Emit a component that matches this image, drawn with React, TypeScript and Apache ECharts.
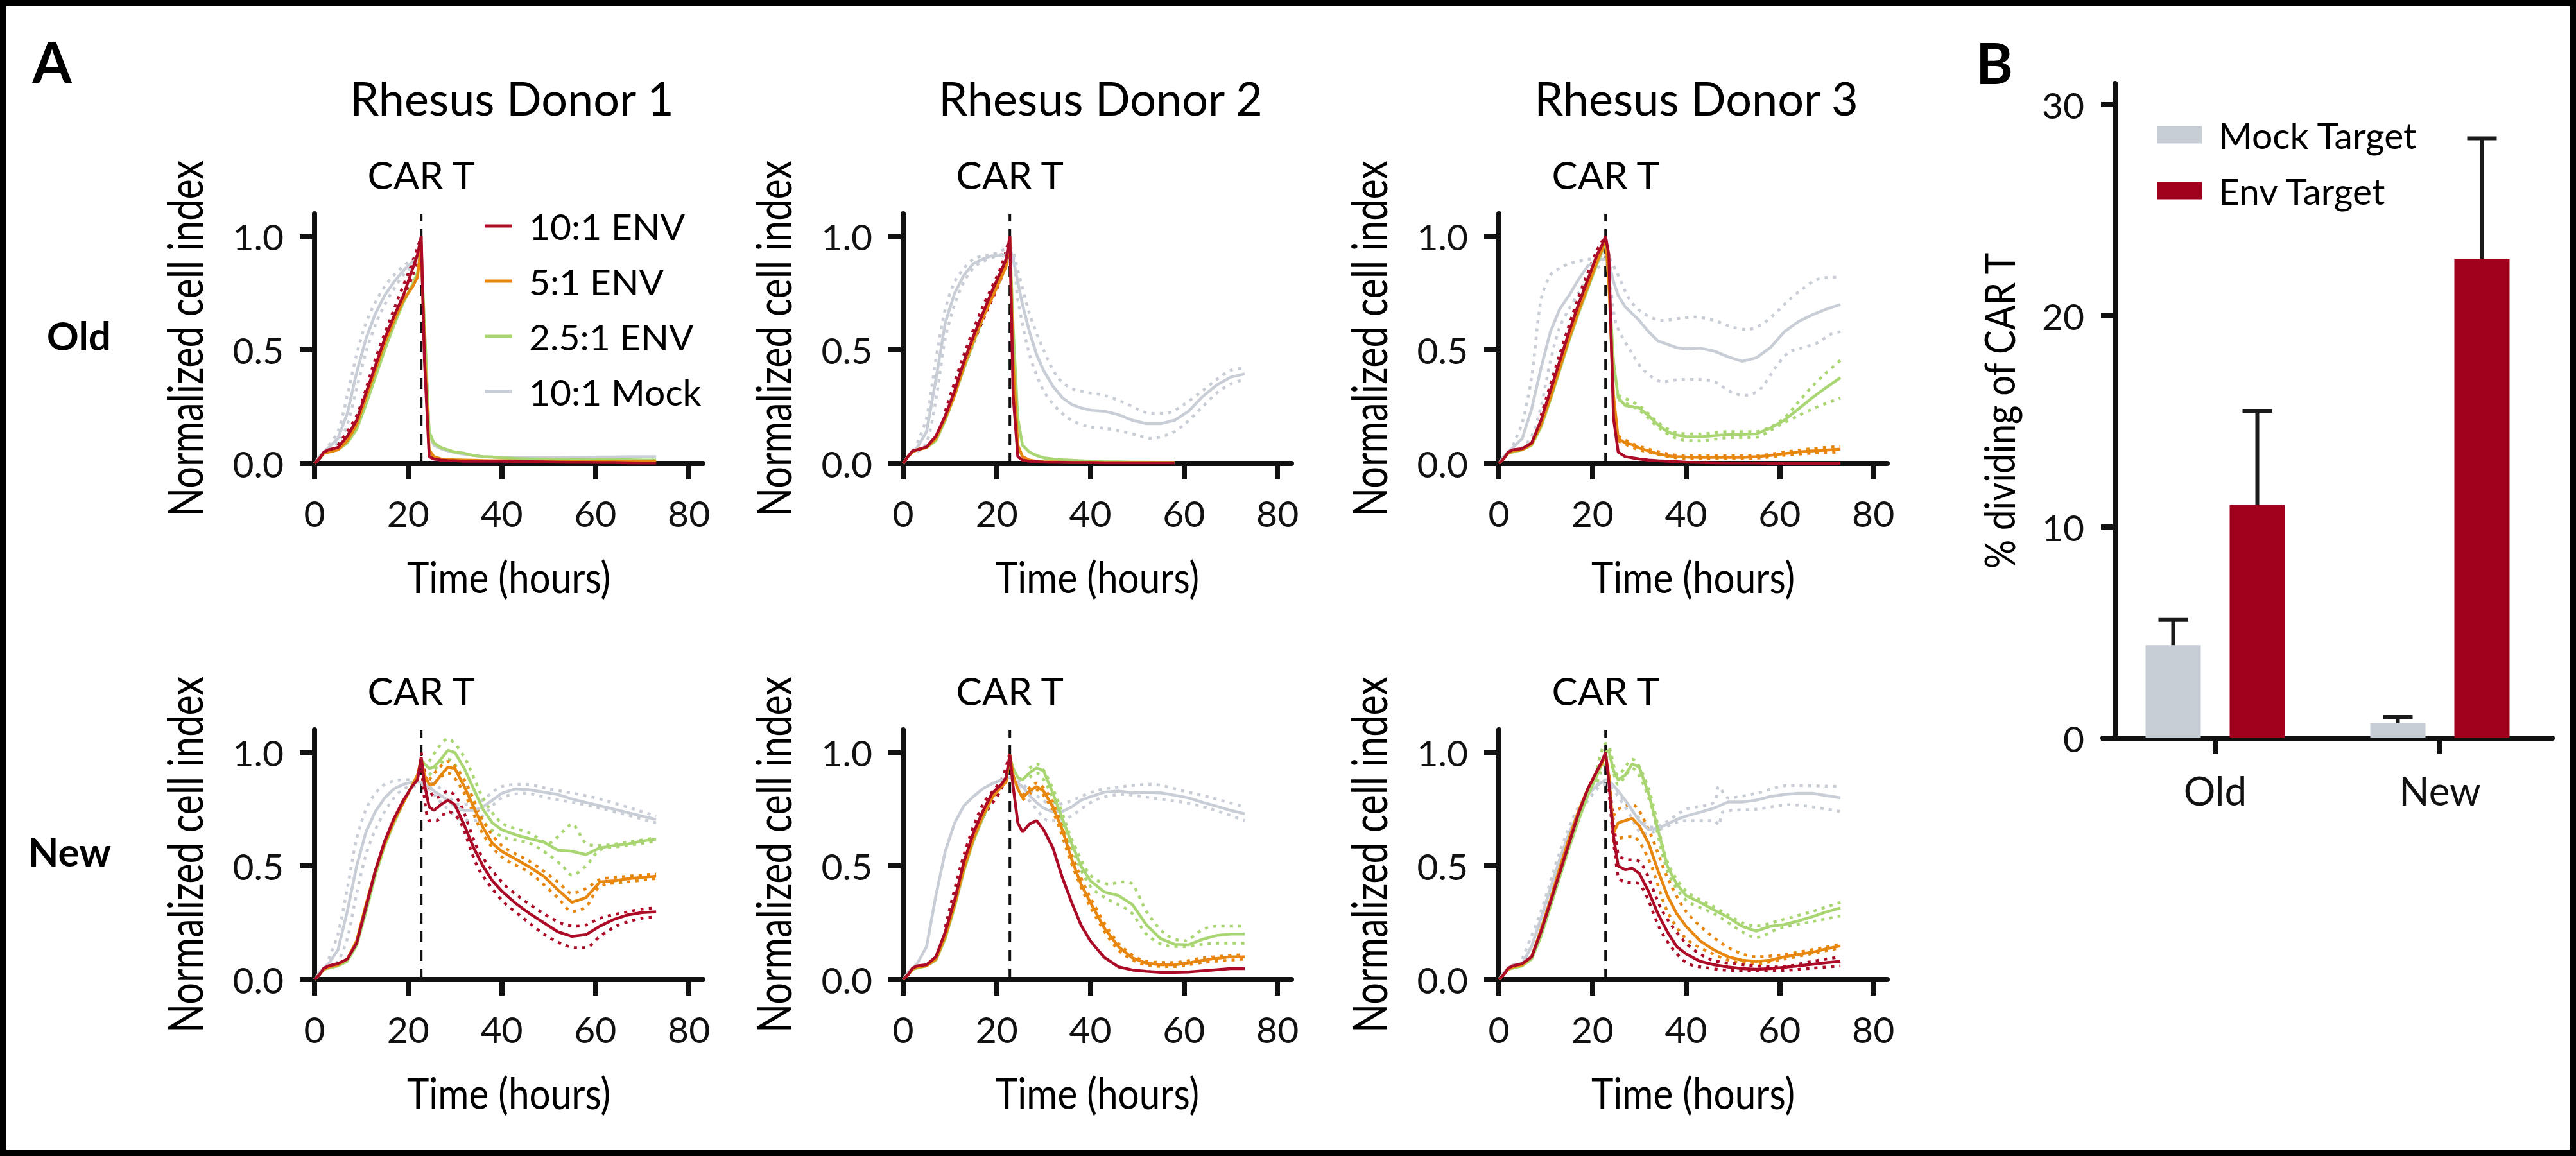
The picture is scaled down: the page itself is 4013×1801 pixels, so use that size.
import React, { useEffect, useRef } from "react";
import * as echarts from "echarts";

// ---------- shared axes / labels ----------
const TIME = [0, 1, 2, 3, 5, 7, 9, 11, 13, 15, 17, 19, 21, 22, 22.8, 23.5, 24.5, 25.5, 27, 28.5, 30, 32, 34, 36, 38, 40, 43, 46, 49, 52, 55, 58, 61, 64, 67, 70, 73];
const CAR_T_TIME = 22.8;
const X_MAX = 83;
const Y_MAX = 1.1;
const X_TICKS = [0, 20, 40, 60, 80];
const Y_TICKS = [0, 0.5, 1];
const DONORS = ["Rhesus Donor 1", "Rhesus Donor 2", "Rhesus Donor 3"];
const ROW_LABELS = ["Old", "New"];
const LINE_NAMES = ["10:1 ENV", "5:1 ENV", "2.5:1 ENV", "10:1 Mock"];
const LINE_COLORS = ["#ab0b26", "#e8870f", "#a9d672", "#c8cdd6"];

// ---------- Old, Donor 1 ----------
const O1_RED = [0, 0.02, 0.05, 0.06, 0.07, 0.12, 0.19, 0.31, 0.43, 0.55, 0.65, 0.74, 0.86, 0.92, 1.0, 0.45, 0.03, 0.02, 0.015, 0.013, 0.012, 0.01, 0.01, 0.01, 0.01, 0.01, 0.008, 0.008, 0.007, 0.006, 0.005, 0.005, 0.004, 0.004, 0.003, 0.002, 0.002];
const O1_ORANGE = [0, 0.02, 0.045, 0.05, 0.06, 0.1, 0.17, 0.29, 0.41, 0.53, 0.63, 0.72, 0.78, 0.82, 0.97, 0.5, 0.06, 0.03, 0.02, 0.018, 0.016, 0.015, 0.014, 0.013, 0.012, 0.012, 0.011, 0.01, 0.01, 0.01, 0.01, 0.01, 0.01, 0.01, 0.01, 0.01, 0.01];
const O1_GREEN = [0, 0.02, 0.045, 0.05, 0.06, 0.09, 0.15, 0.26, 0.38, 0.5, 0.61, 0.71, 0.79, 0.84, 0.93, 0.6, 0.14, 0.09, 0.07, 0.06, 0.05, 0.045, 0.035, 0.03, 0.028, 0.025, 0.022, 0.02, 0.02, 0.018, 0.018, 0.017, 0.017, 0.016, 0.016, 0.015, 0.015];
const O1_GRAY = [0, 0.03, 0.05, 0.07, 0.11, 0.22, 0.4, 0.55, 0.66, 0.74, 0.8, 0.85, 0.89, 0.9, 0.92, 0.6, 0.13, 0.08, 0.065, 0.055, 0.048, 0.04, 0.035, 0.03, 0.028, 0.026, 0.025, 0.025, 0.025, 0.025, 0.026, 0.027, 0.028, 0.028, 0.03, 0.03, 0.03];
const O1_RED_HI = [[5, 0.08], [9, 0.21], [13, 0.46], [17, 0.68], [21, 0.89], [22.8, 1.0]];
const O1_RED_LO = [[5, 0.06], [9, 0.17], [13, 0.41], [17, 0.63], [21, 0.83], [22.8, 0.98]];
const O1_GRAY_HI = [[3, 0.08], [5, 0.14], [7, 0.3], [9, 0.48], [11, 0.62], [13, 0.71], [15, 0.78], [17, 0.83], [19, 0.87], [21, 0.9], [22.8, 0.92]];
const O1_GRAY_LO = [[3, 0.06], [5, 0.09], [7, 0.17], [9, 0.33], [11, 0.49], [13, 0.61], [15, 0.7], [17, 0.77], [19, 0.83], [21, 0.87], [22.8, 0.91]];

// ---------- Old, Donor 2 ----------
const O2_RED = [0, 0.03, 0.055, 0.06, 0.073, 0.12, 0.21, 0.32, 0.45, 0.56, 0.66, 0.76, 0.85, 0.9, 1.0, 0.3, 0.03, 0.015, 0.01, 0.008, 0.006, 0.005, 0.005, 0.004, 0.004, 0.004, 0.003, 0.003, 0.003, 0.003, 0.003, 0.003, null, null, null, null, null];
const O2_ORANGE = [0, 0.03, 0.05, 0.06, 0.07, 0.11, 0.2, 0.3, 0.43, 0.54, 0.64, 0.73, 0.82, 0.87, 0.99, 0.45, 0.08, 0.03, 0.015, 0.01, 0.008, 0.007, 0.006, 0.005, 0.005, 0.005, 0.004, 0.004, 0.004, 0.004, 0.004, 0.004, null, null, null, null, null];
const O2_GREEN = [0, 0.03, 0.05, 0.06, 0.07, 0.1, 0.19, 0.3, 0.42, 0.53, 0.64, 0.74, 0.83, 0.88, 0.98, 0.6, 0.2, 0.08, 0.05, 0.035, 0.025, 0.02, 0.016, 0.014, 0.012, 0.01, 0.008, 0.007, 0.006, 0.006, 0.005, 0.005, null, null, null, null, null];
const O2_GRAY = [0, 0.03, 0.05, 0.07, 0.14, 0.37, 0.62, 0.75, 0.83, 0.88, 0.9, 0.915, 0.915, 0.92, 0.95, 0.9, 0.8, 0.7, 0.58, 0.48, 0.41, 0.34, 0.29, 0.26, 0.245, 0.235, 0.23, 0.215, 0.19, 0.175, 0.175, 0.19, 0.23, 0.295, 0.345, 0.38, 0.395];
const O2_RED_HI = [[9, 0.23], [13, 0.48], [17, 0.69], [21, 0.87], [22.8, 1.0]];
const O2_RED_LO = [[9, 0.19], [13, 0.42], [17, 0.63], [21, 0.82], [22.8, 0.98]];
const O2_GRAY_HI = [[3, 0.09], [5, 0.2], [7, 0.46], [9, 0.68], [11, 0.8], [13, 0.86], [15, 0.9], [17, 0.915], [19, 0.92], [22.8, 0.95], [24.5, 0.85], [27, 0.66], [30, 0.5], [33, 0.38], [36, 0.33], [40, 0.31], [43, 0.3], [47, 0.27], [50, 0.24], [53, 0.22], [57, 0.225], [60, 0.26], [64, 0.32], [67, 0.37], [70, 0.41], [73, 0.42]];
const O2_GRAY_LO = [[3, 0.05], [5, 0.09], [7, 0.28], [9, 0.55], [11, 0.7], [13, 0.8], [15, 0.86], [17, 0.89], [22.8, 0.93], [24.5, 0.72], [27, 0.48], [30, 0.32], [33, 0.24], [36, 0.19], [40, 0.16], [43, 0.155], [47, 0.14], [50, 0.125], [53, 0.11], [57, 0.13], [60, 0.17], [64, 0.25], [67, 0.31], [70, 0.35], [73, 0.37]];

// ---------- Old, Donor 3 ----------
const O3_RED = [0, 0.02, 0.05, 0.06, 0.065, 0.09, 0.19, 0.32, 0.45, 0.58, 0.7, 0.81, 0.92, 0.96, 1.0, 0.92, 0.2, 0.05, 0.03, 0.025, 0.02, 0.015, 0.012, 0.01, 0.008, 0.006, 0.004, 0.003, 0.002, 0.002, 0.002, 0.001, 0.001, 0.001, 0.001, 0.001, 0.001];
const O3_ORANGE = [0, 0.02, 0.045, 0.055, 0.06, 0.085, 0.17, 0.29, 0.42, 0.55, 0.67, 0.78, 0.89, 0.94, 1.0, 0.8, 0.3, 0.11, 0.09, 0.083, 0.068, 0.055, 0.042, 0.034, 0.03, 0.028, 0.027, 0.027, 0.027, 0.027, 0.03, 0.035, 0.043, 0.05, 0.055, 0.059, 0.063];
const O3_GREEN = [0, 0.02, 0.045, 0.05, 0.06, 0.08, 0.16, 0.28, 0.41, 0.54, 0.66, 0.77, 0.88, 0.93, 0.98, 0.8, 0.45, 0.29, 0.255, 0.25, 0.245, 0.21, 0.17, 0.14, 0.125, 0.118, 0.117, 0.122, 0.127, 0.128, 0.13, 0.155, 0.19, 0.24, 0.29, 0.335, 0.378];
const O3_GRAY = [0, 0.03, 0.05, 0.07, 0.11, 0.24, 0.42, 0.58, 0.68, 0.74, 0.81, 0.87, 0.89, 0.9, 0.9, 0.89, 0.8, 0.74, 0.69, 0.66, 0.63, 0.58, 0.54, 0.525, 0.51, 0.505, 0.508, 0.495, 0.47, 0.45, 0.465, 0.51, 0.58, 0.625, 0.655, 0.68, 0.7];
const O3_RED_HI = [[9, 0.21], [13, 0.48], [17, 0.73], [21, 0.94], [22.8, 1.0]];
const O3_RED_LO = [[9, 0.17], [13, 0.42], [17, 0.67], [21, 0.9], [22.8, 0.99]];
const O3_ORANGE_HI = [[25.5, 0.12], [30, 0.075], [40, 0.033], [55, 0.034], [61, 0.05], [67, 0.065], [73, 0.075]];
const O3_ORANGE_LO = [[25.5, 0.1], [30, 0.06], [40, 0.022], [55, 0.024], [61, 0.036], [67, 0.045], [73, 0.05]];
const O3_GREEN_HI = [[25.5, 0.3], [30, 0.255], [34, 0.18], [38, 0.135], [43, 0.13], [49, 0.14], [55, 0.14], [58, 0.16], [61, 0.2], [64, 0.27], [67, 0.34], [70, 0.4], [73, 0.454]];
const O3_GREEN_LO = [[25.5, 0.28], [30, 0.235], [34, 0.16], [38, 0.11], [43, 0.1], [49, 0.113], [55, 0.115], [58, 0.145], [61, 0.18], [64, 0.21], [67, 0.24], [70, 0.265], [73, 0.288]];
const O3_GRAY_HI = [[3, 0.08], [5, 0.18], [7, 0.38], [9, 0.72], [11, 0.83], [13, 0.86], [15, 0.88], [17, 0.89], [19, 0.9], [21, 0.9], [22.8, 0.92], [25, 0.85], [28, 0.72], [31, 0.66], [35, 0.63], [39, 0.64], [42, 0.645], [46, 0.63], [50, 0.6], [53, 0.59], [56, 0.61], [59, 0.66], [62, 0.72], [65, 0.77], [68, 0.81], [71, 0.82], [73, 0.82]];
const O3_GRAY_LO = [[3, 0.05], [5, 0.07], [7, 0.12], [9, 0.25], [11, 0.45], [13, 0.6], [15, 0.68], [17, 0.75], [19, 0.82], [21, 0.86], [22.8, 0.88], [25, 0.62], [28, 0.5], [31, 0.41], [35, 0.36], [39, 0.37], [42, 0.37], [46, 0.36], [50, 0.31], [53, 0.3], [56, 0.33], [59, 0.42], [62, 0.49], [65, 0.51], [68, 0.53], [71, 0.57], [73, 0.58]];

// ---------- New, Donor 1 ----------
const N1_RED = [0, 0.02, 0.05, 0.06, 0.07, 0.09, 0.16, 0.32, 0.48, 0.61, 0.71, 0.79, 0.855, 0.88, 0.98, 0.86, 0.76, 0.745, 0.77, 0.79, 0.77, 0.68, 0.58, 0.5, 0.435, 0.39, 0.335, 0.29, 0.25, 0.21, 0.19, 0.197, 0.235, 0.265, 0.285, 0.295, 0.298];
const N1_ORANGE = [0, 0.02, 0.045, 0.055, 0.065, 0.09, 0.17, 0.33, 0.48, 0.6, 0.7, 0.78, 0.86, 0.9, 0.97, 0.9, 0.86, 0.86, 0.9, 0.935, 0.93, 0.85, 0.76, 0.67, 0.6, 0.565, 0.53, 0.495, 0.455, 0.395, 0.34, 0.36, 0.43, 0.435, 0.444, 0.45, 0.455];
const N1_GREEN = [0, 0.02, 0.045, 0.05, 0.06, 0.08, 0.15, 0.3, 0.46, 0.59, 0.69, 0.78, 0.86, 0.9, 0.97, 0.95, 0.93, 0.935, 0.97, 1.01, 1.0, 0.93, 0.84, 0.75, 0.69, 0.66, 0.637, 0.62, 0.605, 0.57, 0.565, 0.55, 0.58, 0.59, 0.597, 0.61, 0.618];
const N1_GRAY = [0, 0.03, 0.05, 0.07, 0.13, 0.3, 0.5, 0.65, 0.74, 0.8, 0.84, 0.86, 0.87, 0.87, 0.87, 0.86, 0.85, 0.83, 0.81, 0.79, 0.76, 0.745, 0.745, 0.76, 0.79, 0.82, 0.84, 0.835, 0.825, 0.815, 0.795, 0.78, 0.765, 0.75, 0.735, 0.72, 0.705];
const N1_RED_HI = [[22.8, 1.0], [24.5, 0.84], [26, 0.8], [28.5, 0.83], [31, 0.78], [35, 0.57], [40, 0.43], [44, 0.36], [49, 0.29], [53, 0.245], [56, 0.235], [58, 0.24], [61, 0.27], [65, 0.29], [70, 0.31], [73, 0.315]];
const N1_RED_LO = [[22.8, 0.96], [24.5, 0.7], [26, 0.7], [28.5, 0.74], [31, 0.7], [35, 0.49], [40, 0.35], [44, 0.28], [49, 0.2], [53, 0.155], [56, 0.14], [58, 0.14], [61, 0.19], [65, 0.24], [70, 0.27], [73, 0.275]];
const N1_ORANGE_HI = [[24.5, 0.88], [28.5, 0.96], [32, 0.88], [36, 0.7], [40, 0.59], [46, 0.52], [52, 0.43], [55, 0.38], [58, 0.4], [61, 0.44], [67, 0.455], [73, 0.465]];
const N1_ORANGE_LO = [[24.5, 0.84], [28.5, 0.91], [32, 0.82], [36, 0.64], [40, 0.54], [46, 0.47], [52, 0.36], [55, 0.3], [58, 0.32], [61, 0.41], [67, 0.43], [73, 0.445]];
const N1_GREEN_HI = [[24.5, 0.96], [28.5, 1.06], [32, 0.98], [36, 0.8], [40, 0.69], [46, 0.645], [50, 0.6], [53, 0.65], [55, 0.685], [58, 0.6], [61, 0.59], [67, 0.605], [73, 0.625]];
const N1_GREEN_LO = [[24.5, 0.9], [28.5, 0.97], [32, 0.88], [36, 0.7], [40, 0.63], [46, 0.6], [50, 0.55], [53, 0.5], [55, 0.46], [58, 0.5], [61, 0.57], [67, 0.59], [73, 0.61]];
const N1_GRAY_HI = [[3, 0.09], [5, 0.2], [7, 0.4], [9, 0.62], [11, 0.75], [13, 0.82], [15, 0.86], [17, 0.875], [19, 0.88], [21, 0.88], [22.8, 0.88], [27, 0.84], [31, 0.77], [35, 0.78], [40, 0.85], [45, 0.86], [50, 0.84], [60, 0.8], [73, 0.72]];
const N1_GRAY_LO = [[3, 0.05], [5, 0.08], [7, 0.18], [9, 0.38], [11, 0.55], [13, 0.66], [15, 0.74], [17, 0.8], [19, 0.84], [21, 0.85], [22.8, 0.86], [27, 0.78], [31, 0.71], [34, 0.7], [40, 0.8], [45, 0.82], [50, 0.8], [60, 0.76], [73, 0.69]];

// ---------- New, Donor 2 ----------
const N2_RED = [0, 0.02, 0.05, 0.06, 0.065, 0.1, 0.21, 0.35, 0.52, 0.645, 0.74, 0.82, 0.86, 0.89, 0.99, 0.85, 0.69, 0.65, 0.685, 0.7, 0.66, 0.58, 0.45, 0.34, 0.24, 0.17, 0.097, 0.056, 0.042, 0.036, 0.032, 0.032, 0.033, 0.038, 0.043, 0.048, 0.048];
const N2_ORANGE = [0, 0.02, 0.045, 0.055, 0.06, 0.09, 0.19, 0.33, 0.49, 0.62, 0.72, 0.8, 0.85, 0.87, 0.99, 0.9, 0.84, 0.8, 0.83, 0.85, 0.83, 0.76, 0.66, 0.53, 0.42, 0.34, 0.226, 0.145, 0.095, 0.072, 0.065, 0.065, 0.073, 0.085, 0.093, 0.1, 0.1];
const N2_GREEN = [0, 0.02, 0.045, 0.05, 0.06, 0.085, 0.18, 0.32, 0.48, 0.61, 0.71, 0.8, 0.86, 0.88, 0.98, 0.93, 0.89, 0.88, 0.91, 0.932, 0.92, 0.82, 0.71, 0.6, 0.5, 0.435, 0.385, 0.37, 0.33, 0.24, 0.18, 0.155, 0.153, 0.177, 0.194, 0.2, 0.2];
const N2_GRAY = [0, 0.03, 0.05, 0.07, 0.145, 0.37, 0.565, 0.69, 0.766, 0.806, 0.84, 0.863, 0.88, 0.885, 0.89, 0.88, 0.865, 0.85, 0.81, 0.78, 0.755, 0.738, 0.74, 0.76, 0.79, 0.805, 0.825, 0.83, 0.822, 0.824, 0.822, 0.812, 0.8, 0.78, 0.763, 0.745, 0.73];
const N2_RED_HI = [[9, 0.23], [13, 0.55], [17, 0.77], [21, 0.88], [22.8, 1.0]];
const N2_RED_LO = [[9, 0.19], [13, 0.49], [17, 0.71], [21, 0.84], [22.8, 0.98]];
const N2_ORANGE_HI = [[25.5, 0.81], [28.5, 0.865], [32, 0.78], [36, 0.55], [40, 0.36], [46, 0.16], [52, 0.08], [58, 0.075], [64, 0.095], [73, 0.11]];
const N2_ORANGE_LO = [[25.5, 0.79], [28.5, 0.835], [32, 0.74], [36, 0.51], [40, 0.32], [46, 0.13], [52, 0.064], [58, 0.057], [64, 0.075], [73, 0.09]];
const N2_GREEN_HI = [[27, 0.93], [28.5, 0.95], [32, 0.84], [36, 0.62], [40, 0.46], [44, 0.42], [47, 0.43], [49, 0.42], [52, 0.3], [56, 0.2], [60, 0.17], [64, 0.22], [67, 0.235], [73, 0.235]];
const N2_GREEN_LO = [[27, 0.89], [28.5, 0.91], [32, 0.8], [36, 0.58], [40, 0.41], [44, 0.35], [47, 0.32], [49, 0.29], [52, 0.2], [56, 0.15], [60, 0.145], [64, 0.155], [67, 0.16], [73, 0.16]];
const N2_GRAY_HI = [[24.5, 0.88], [28.5, 0.81], [32, 0.77], [35, 0.78], [41, 0.83], [47, 0.85], [53, 0.86], [60, 0.83], [66, 0.8], [73, 0.76]];
const N2_GRAY_LO = [[24.5, 0.85], [28.5, 0.75], [31, 0.7], [35, 0.71], [41, 0.79], [47, 0.815], [53, 0.8], [60, 0.78], [66, 0.75], [73, 0.7]];

// ---------- New, Donor 3 ----------
const N3_RED = [0, 0.02, 0.05, 0.06, 0.07, 0.1, 0.21, 0.34, 0.47, 0.6, 0.73, 0.84, 0.92, 0.96, 1.0, 0.87, 0.63, 0.5, 0.484, 0.49, 0.468, 0.387, 0.29, 0.21, 0.145, 0.113, 0.08, 0.065, 0.055, 0.048, 0.045, 0.048, 0.054, 0.06, 0.067, 0.074, 0.08];
const N3_ORANGE = [0, 0.02, 0.045, 0.055, 0.065, 0.1, 0.22, 0.35, 0.49, 0.62, 0.74, 0.84, 0.92, 0.95, 0.99, 0.9, 0.645, 0.69, 0.7, 0.71, 0.677, 0.6, 0.48, 0.37, 0.29, 0.234, 0.17, 0.13, 0.1, 0.085, 0.08, 0.085, 0.1, 0.11, 0.12, 0.135, 0.148];
const N3_GREEN = [0, 0.02, 0.045, 0.05, 0.06, 0.09, 0.19, 0.32, 0.45, 0.58, 0.7, 0.81, 0.9, 0.95, 1.0, 1.01, 0.92, 0.88, 0.9, 0.95, 0.935, 0.82, 0.66, 0.5, 0.42, 0.37, 0.34, 0.306, 0.274, 0.234, 0.213, 0.234, 0.242, 0.258, 0.277, 0.298, 0.315];
const N3_GRAY = [0, 0.03, 0.05, 0.065, 0.07, 0.145, 0.27, 0.4, 0.53, 0.645, 0.74, 0.815, 0.855, 0.87, 0.88, 0.875, 0.855, 0.83, 0.79, 0.745, 0.7, 0.66, 0.665, 0.685, 0.705, 0.72, 0.737, 0.755, 0.782, 0.782, 0.79, 0.806, 0.815, 0.82, 0.82, 0.81, 0.8];
const N3_RED_HI = [[23.5, 0.9], [25.5, 0.55], [27, 0.53], [30, 0.52], [35, 0.3], [40, 0.16], [45, 0.09], [50, 0.07], [60, 0.055], [67, 0.08], [73, 0.1]];
const N3_RED_LO = [[23.5, 0.84], [25.5, 0.45], [27, 0.43], [30, 0.42], [35, 0.2], [40, 0.075], [45, 0.05], [50, 0.04], [60, 0.04], [67, 0.05], [73, 0.06]];
const N3_ORANGE_HI = [[24.5, 0.72], [25.5, 0.75], [28.5, 0.77], [32, 0.66], [36, 0.45], [40, 0.3], [45, 0.2], [50, 0.13], [55, 0.1], [61, 0.11], [73, 0.155]];
const N3_ORANGE_LO = [[24.5, 0.6], [25.5, 0.62], [28.5, 0.63], [32, 0.53], [36, 0.3], [40, 0.18], [45, 0.12], [50, 0.08], [55, 0.07], [61, 0.09], [73, 0.14]];
const N3_GREEN_HI = [[21, 0.93], [22.8, 1.04], [23.5, 1.03], [25.5, 0.9], [28.5, 0.97], [32, 0.84], [36, 0.52], [40, 0.39], [46, 0.32], [52, 0.25], [55, 0.235], [60, 0.26], [67, 0.3], [73, 0.34]];
const N3_GREEN_LO = [[21, 0.87], [22.8, 0.97], [23.5, 0.99], [25.5, 0.86], [28.5, 0.93], [32, 0.8], [36, 0.48], [40, 0.35], [46, 0.29], [52, 0.21], [55, 0.185], [60, 0.225], [67, 0.255], [73, 0.28]];
const N3_GRAY_HI = [[5, 0.09], [9, 0.3], [13, 0.56], [17, 0.76], [21, 0.86], [22.8, 0.88], [27, 0.78], [31, 0.69], [33, 0.67], [40, 0.75], [46, 0.78], [47, 0.85], [49, 0.8], [55, 0.82], [62, 0.855], [73, 0.85]];
const N3_GRAY_LO = [[5, 0.06], [9, 0.25], [13, 0.5], [17, 0.72], [21, 0.84], [22.8, 0.86], [27, 0.76], [31, 0.64], [33, 0.65], [40, 0.7], [46, 0.7], [47, 0.68], [48, 0.74], [55, 0.75], [62, 0.77], [73, 0.74]];

// ---------- Panel B ----------
const BAR_CATEGORIES = ["Old", "New"];
const BAR_NAMES = ["Mock Target", "Env Target"];
const BAR_COLORS = ["#c7cdd5", "#a1001c"];
const MOCK_TARGET = [4.4, 0.71];
const MOCK_TARGET_ERR_TOP = [5.6, 1.0];
const ENV_TARGET = [11.03, 22.7];
const ENV_TARGET_ERR_TOP = [15.5, 28.4];
const B_Y_MAX = 31;
const B_TICKS = [0, 10, 20, 30];

// index: 0 red, 1 orange, 2 green, 3 gray
const PANELS = [
  { means: [O1_RED, O1_ORANGE, O1_GREEN, O1_GRAY], bands: [[0, O1_RED_HI, O1_RED_LO], [3, O1_GRAY_HI, O1_GRAY_LO]] },
  { means: [O2_RED, O2_ORANGE, O2_GREEN, O2_GRAY], bands: [[0, O2_RED_HI, O2_RED_LO], [3, O2_GRAY_HI, O2_GRAY_LO]] },
  { means: [O3_RED, O3_ORANGE, O3_GREEN, O3_GRAY], bands: [[0, O3_RED_HI, O3_RED_LO], [1, O3_ORANGE_HI, O3_ORANGE_LO], [2, O3_GREEN_HI, O3_GREEN_LO], [3, O3_GRAY_HI, O3_GRAY_LO]] },
  { means: [N1_RED, N1_ORANGE, N1_GREEN, N1_GRAY], bands: [[0, N1_RED_HI, N1_RED_LO], [1, N1_ORANGE_HI, N1_ORANGE_LO], [2, N1_GREEN_HI, N1_GREEN_LO], [3, N1_GRAY_HI, N1_GRAY_LO]] },
  { means: [N2_RED, N2_ORANGE, N2_GREEN, N2_GRAY], bands: [[0, N2_RED_HI, N2_RED_LO], [1, N2_ORANGE_HI, N2_ORANGE_LO], [2, N2_GREEN_HI, N2_GREEN_LO], [3, N2_GRAY_HI, N2_GRAY_LO]] },
  { means: [N3_RED, N3_ORANGE, N3_GREEN, N3_GRAY], bands: [[0, N3_RED_HI, N3_RED_LO], [1, N3_ORANGE_HI, N3_ORANGE_LO], [2, N3_GREEN_HI, N3_GREEN_LO], [3, N3_GRAY_HI, N3_GRAY_LO]] },
];

// ---------- layout (pixels) ----------
const W = 4013;
const H = 1801;
const FONT = 'Lato, "DejaVu Sans", sans-serif';
const GRID_LEFT = [490, 1407, 2335];
const GRID_TOP = [333, 1137];
const GRID_W = 605;
const GRID_H = 389;
const AXIS_W = 8;
const INK = "#111";
const B_GRID = { left: 3276, top: 130, width: 700, height: 1020 };
const BAR_W = 86;
const BAR_GAP_PX = 45;

function txt(text: string, x: number, y: number, size: number, o: any = {}) {
  const align = o.align || "center";
  return {
    type: "text",
    x,
    y,
    rotation: o.rotation || 0,
    scaleX: o.scaleX || 1,
    silent: true,
    z: 50,
    style: {
      text,
      fontSize: size,
      fontFamily: FONT,
      fontWeight: o.bold ? "bold" : "normal",
      fill: "#000",
      align,
      verticalAlign: "middle",
      textAlign: align,
      textVerticalAlign: "middle",
    },
  };
}

function buildOption() {
  const grid: any[] = [];
  const xAxis: any[] = [];
  const yAxis: any[] = [];
  const series: any[] = [];
  const title: any[] = [];

  DONORS.forEach((d, c) => {
    title.push({
      text: d,
      left: GRID_LEFT[c] + GRID_W / 2,
      top: 111,
      textAlign: "center",
      textStyle: { fontSize: 72, fontWeight: "normal", fontFamily: FONT, color: "#000" },
    });
  });

  PANELS.forEach((panel, p) => {
    const row = Math.floor(p / 3);
    const col = p % 3;
    grid.push({ left: GRID_LEFT[col], top: GRID_TOP[row], width: GRID_W, height: GRID_H });
    xAxis.push({
      type: "value",
      gridIndex: p,
      min: 0,
      max: X_MAX,
      splitLine: { show: false },
      axisLine: { show: true, onZero: false, lineStyle: { color: INK, width: AXIS_W } },
      axisTick: { show: true, customValues: X_TICKS, length: 25, lineStyle: { color: INK, width: AXIS_W } },
      axisLabel: { customValues: X_TICKS, fontSize: 57, fontFamily: FONT, color: INK, margin: 48 },
    });
    yAxis.push({
      type: "value",
      gridIndex: p,
      min: 0,
      max: Y_MAX,
      splitLine: { show: false },
      axisLine: { show: true, onZero: false, lineStyle: { color: INK, width: AXIS_W } },
      axisTick: { show: true, customValues: Y_TICKS, length: 23, lineStyle: { color: INK, width: AXIS_W } },
      axisLabel: {
        customValues: Y_TICKS,
        fontSize: 57,
        fontFamily: FONT,
        color: INK,
        margin: 48,
        formatter: (v: number) => v.toFixed(1),
      },
    });
    // CAR T addition marker
    series.push({
      type: "line",
      name: "CAR T",
      xAxisIndex: p,
      yAxisIndex: p,
      data: [[CAR_T_TIME, 0], [CAR_T_TIME, Y_MAX]],
      symbol: "none",
      silent: true,
      z: 1,
      lineStyle: { color: INK, width: 4, type: [17, 12] },
    });
    [3, 2, 1, 0].forEach((k) => {
      const color = LINE_COLORS[k];
      panel.bands
        .filter((b: any) => b[0] === k)
        .forEach((b: any) => {
          [b[1], b[2]].forEach((arr: any) => {
            series.push({
              type: "line",
              name: LINE_NAMES[k] + " SD",
              xAxisIndex: p,
              yAxisIndex: p,
              data: arr,
              symbol: "none",
              smooth: 0.3,
              silent: true,
              z: 2,
              color,
              lineStyle: { color, width: 4.5, type: [5, 8] },
            });
          });
        });
      series.push({
        type: "line",
        name: LINE_NAMES[k],
        xAxisIndex: p,
        yAxisIndex: p,
        data: TIME.map((t, i) => [t, panel.means[k][i]]),
        symbol: "none",
        connectNulls: false,
        silent: true,
        z: 3,
        color,
        itemStyle: { color },
        lineStyle: { color, width: 4.5 },
      });
    });
  });

  // Panel B
  const bi = PANELS.length;
  grid.push({ ...B_GRID });
  xAxis.push({
    type: "category",
    gridIndex: bi,
    data: BAR_CATEGORIES,
    axisLine: { show: true, lineStyle: { color: INK, width: AXIS_W } },
    axisTick: { show: true, alignWithLabel: true, length: 25, lineStyle: { color: INK, width: AXIS_W } },
    axisLabel: { fontSize: 62, fontFamily: FONT, color: INK, margin: 50 },
  });
  yAxis.push({
    type: "value",
    gridIndex: bi,
    min: 0,
    max: B_Y_MAX,
    offset: -19,
    splitLine: { show: false },
    axisLine: { show: true, lineStyle: { color: INK, width: AXIS_W } },
    axisTick: { show: true, customValues: B_TICKS, length: 22, lineStyle: { color: INK, width: AXIS_W } },
    axisLabel: { customValues: B_TICKS, fontSize: 57, fontFamily: FONT, color: INK, margin: 48 },
  });
  const barData = [MOCK_TARGET, ENV_TARGET];
  const errTop = [MOCK_TARGET_ERR_TOP, ENV_TARGET_ERR_TOP];
  BAR_NAMES.forEach((name, j) => {
    series.push({
      type: "bar",
      name,
      xAxisIndex: bi,
      yAxisIndex: bi,
      data: barData[j],
      barWidth: BAR_W,
      barGap: ((BAR_GAP_PX / BAR_W) * 100).toFixed(1) + "%",
      color: BAR_COLORS[j],
      itemStyle: { color: BAR_COLORS[j] },
      silent: true,
      z: 2,
    });
  });
  BAR_NAMES.forEach((name, j) => {
    const offset = ((j === 0 ? -1 : 1) * (BAR_W + BAR_GAP_PX)) / 2;
    series.push({
      type: "custom",
      name: name + " error",
      xAxisIndex: bi,
      yAxisIndex: bi,
      silent: true,
      z: 3,
      encode: { x: 0, y: [1, 2] },
      data: barData[j].map((v, i) => [i, v, errTop[j][i]]),
      renderItem: (_params: any, api: any) => {
        const p0 = api.coord([api.value(0), api.value(1)]);
        const p1 = api.coord([api.value(0), api.value(2)]);
        const x = p0[0] + offset;
        const st = { stroke: "#1a1a1a", lineWidth: 6 };
        return {
          type: "group",
          children: [
            { type: "line", shape: { x1: x, y1: p0[1], x2: x, y2: p1[1] }, style: st },
            { type: "line", shape: { x1: x - 23, y1: p1[1], x2: x + 23, y2: p1[1] }, style: st },
          ],
        };
      },
    });
  });

  return {
    animation: false,
    backgroundColor: "#fff",
    title,
    legend: [
      {
        data: LINE_NAMES,
        orient: "vertical",
        left: 755,
        top: 322,
        padding: 0,
        itemWidth: 43,
        itemHeight: 5,
        itemGap: 26,
        icon: "rect",
        selectedMode: false,
        textStyle: { fontSize: 57, fontFamily: FONT, color: "#000", lineHeight: 60, padding: [0, 0, 0, 21] },
      },
      {
        data: BAR_NAMES,
        orient: "vertical",
        left: 3360,
        top: 180,
        padding: 0,
        itemWidth: 70,
        itemHeight: 27,
        itemGap: 27,
        icon: "rect",
        selectedMode: false,
        textStyle: { fontSize: 57, fontFamily: FONT, color: "#000", lineHeight: 60, padding: [0, 0, 0, 21] },
      },
    ],
    grid,
    xAxis,
    yAxis,
    series,
  };
}

function staticGraphics() {
  const els: any[] = [];
  els.push({
    type: "rect",
    silent: true,
    z: 60,
    shape: { x: 5, y: 5, width: W - 10, height: H - 10 },
    style: { fill: "none", stroke: "#000", lineWidth: 10 },
  });
  els.push(txt("A", 81, 95, 88, { bold: true }));
  els.push(txt("B", 3107, 97, 88, { bold: true }));
  ROW_LABELS.forEach((r, row) => {
    els.push(txt(r, 173, GRID_TOP[row] + GRID_H / 2 - 6, 62, { bold: true, align: "right" }));
    GRID_LEFT.forEach((left) => {
      els.push(txt("Normalized cell index", left - 203, GRID_TOP[row] + GRID_H / 2, 76, { rotation: Math.PI / 2, scaleX: 0.78 }));
      els.push(txt("Time (hours)", left + GRID_W / 2, GRID_TOP[row] + GRID_H + 176, 68, { scaleX: 0.86 }));
    });
  });
  els.push(txt("% dividing of CAR T", 3113, 640, 66, { rotation: Math.PI / 2, scaleX: 0.86 }));
  return els;
}

export default function App() {
  const ref = useRef<HTMLDivElement>(null);
  useEffect(() => {
    document.body.style.margin = "0";
    const chart = echarts.init(ref.current as HTMLDivElement, undefined, { renderer: "svg" });
    chart.setOption(buildOption() as any);
    const carT = PANELS.map((_, p) => {
      const pt = chart.convertToPixel({ gridIndex: p } as any, [CAR_T_TIME, Y_MAX]) as number[];
      return txt("CAR T", pt[0], pt[1] - 61, 60);
    });
    chart.setOption({ graphic: { elements: [...staticGraphics(), ...carT] } } as any);
    return () => chart.dispose();
  }, []);
  return (
    <div
      ref={ref}
      style={{ position: "absolute", left: 0, top: 0, width: W, height: H, background: "#fff" }}
    />
  );
}
